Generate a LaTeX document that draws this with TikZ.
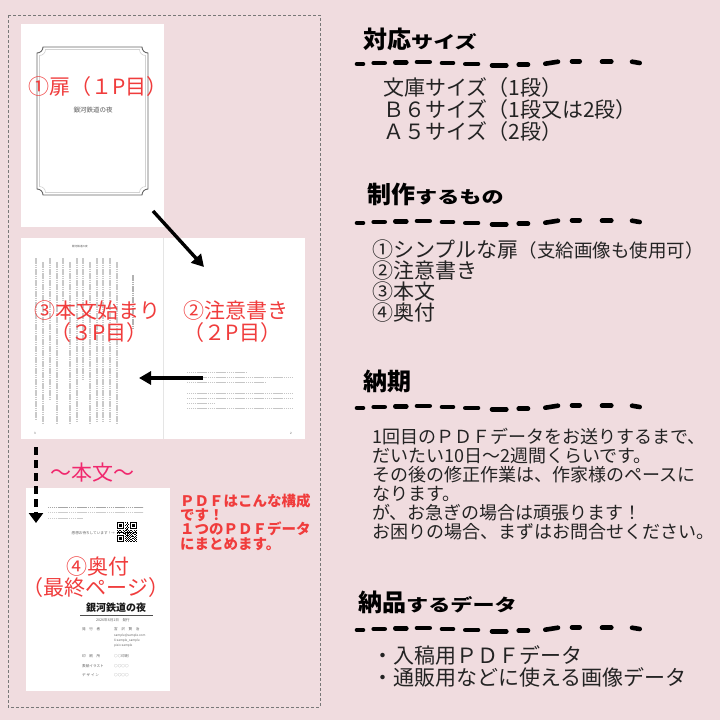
\documentclass[tikz,border=0pt]{standalone}
\usepackage{fontspec}
\usetikzlibrary{arrows.meta}
\newfontfamily\jp{Noto Sans CJK JP}
\definecolor{bgpink}{RGB}{240,220,223}
\definecolor{lblred}{RGB}{240,60,60}
\definecolor{lblpink}{RGB}{240,40,110}
\definecolor{ink}{RGB}{35,35,35}
\definecolor{framegray}{RGB}{120,120,120}
\newcommand\hk[1]{{\fontsize{17}{18}\selectfont\scalebox{1.3}[1]{#1}}}
\newcommand\myhanddash[1]{%
  \foreach \xa/\ya/\xb/\yb in {357/1/363/1, 373.7/0/384.7/0, 395.3/-0.7/406.3/-0.7, 417/-1/429.7/-1, 442/0/453/0, 465.3/1/478/1, 492/2.3/506.3/2.3, 518.7/1.7/528/1.7, 545.3/0.7/558/-1.3, 572/-1.7/579.7/-1.7, 602/-1.3/611.3/-1.3, 632/-1.3/639.7/0}
    {\draw[handdash] (\xa,{#1+\ya}) -- (\xb,{#1+\yb});}}
\newcommand\notchrect[5]{%
  \draw[#5] ({#1+6},#2) -- ({#3-6},#2) .. controls ({#3-6},{#2+3.3}) and ({#3-3.3},{#2+6}) .. (#3,{#2+6})
  -- (#3,{#4-6}) .. controls ({#3-3.3},{#4-6}) and ({#3-6},{#4-3.3}) .. ({#3-6},#4)
  -- ({#1+6},#4) .. controls ({#1+6},{#4-3.3}) and ({#1+3.3},{#4-6}) .. (#1,{#4-6})
  -- (#1,{#2+6}) .. controls ({#1+3.3},{#2+6}) and ({#1+6},{#2+3.3}) .. ({#1+6},#2) -- cycle;}
\tikzset{
  pagebox/.style={fill=white, draw=none, inner sep=0pt, outer sep=0pt},
  frame/.style={draw=framegray, line width=0.9pt, dash pattern=on 3pt off 2pt},
  arrowsolid/.style={draw=black, line width=3.4pt, -{Triangle[length=12pt,width=13pt]}},
  arrowdashed/.style={draw=black, line width=3.6pt, dash pattern=on 8pt off 5pt, -{Triangle[length=10pt,width=14pt]}},
  lbl/.style={font=\jp\fontsize{21}{24}\selectfont, text=lblred, inner sep=0pt},
  note/.style={font=\jp\bfseries\fontsize{14.5}{16}\selectfont, text=lblred, inner sep=0pt, anchor=base west},
  head/.style={font=\jp\bfseries\fontsize{24}{26}\selectfont, text=black, inner sep=0pt, anchor=base west},
  bodyA/.style={font=\jp\fontsize{21}{24}\selectfont, text=ink, inner sep=0pt, anchor=base west},
  bodyB/.style={font=\jp\fontsize{18}{20}\selectfont, text=ink, inner sep=0pt, anchor=base west},
  tiny/.style={font=\jp\fontsize{3.6}{4}\selectfont, text=gray!75!black, inner sep=0pt},
  handdash/.style={line width=4.6pt, line cap=round, draw=black},
  txtcol/.style={line width=1.1pt, draw=gray!42, dash pattern=on 1.5pt off 0.7pt},
  txtrow/.style={line width=0.9pt, draw=gray!45, dash pattern=on 1.4pt off 0.5pt},
}
\begin{document}
\begin{tikzpicture}[x=1pt,y=-1pt]
\useasboundingbox (0,0) rectangle (720,720);
\fill[bgpink] (0,0) rectangle (720,720);
% outer dashed frame
\draw[frame] (8,15) rectangle (320,707);

% ---------- page 1 ----------
\node[pagebox, minimum width=143pt, minimum height=203pt] (p1) at (92.5,125.5) {};
\notchrect{37}{47}{148}{195}{draw=gray!80!black, line width=0.9pt}
\notchrect{39.5}{49.5}{145.5}{192.5}{draw=gray!35, line width=0.6pt}
\node[font=\jp\fontsize{6.5}{7}\selectfont, text=gray!70!black, inner sep=0pt] (t1) at (93,110) {銀河鉄道の夜};
\node[lbl, anchor=base west] (l1) at (28,94) {①扉（１P目）};

% ---------- spread (pages 3 and 2) ----------
\node[pagebox, minimum width=284pt, minimum height=201pt] (spread) at (163,338.5) {};
\draw[gray!20, line width=0.8pt] (spread.north) -- (spread.south);
\node[font=\jp\fontsize{2.6}{3}\selectfont, text=gray!70!black, inner sep=0pt] (hdr) at (80,247) {銀河鉄道の夜};
\foreach \cx/\ya/\yb in {36/258/420, 43/262/423, 50/258/400, 57/262/423, 63/258/300, 70/262/423, 77/258/423, 83/258/380, 90/262/423, 97/258/423, 103/258/423, 110/258/423, 117/262/423}
  {\draw[txtcol] (\cx,\ya) -- (\cx,\yb);}
\draw[txtcol, draw=gray!60] (133,275) -- (133,330);
\foreach \ry/\xa/\xb in {372.5/187/247, 377/187/292, 382/187/265, 393/187/292, 398/187/292, 403/187/215, 408/187/292}
  {\draw[txtrow] (\xa,\ry) -- (\xb,\ry);}
\node[font=\jp\fontsize{3}{3}\selectfont, text=gray!70!black, inner sep=0pt] (pn3) at (35,433) {3};
\node[font=\jp\fontsize{3}{3}\selectfont, text=gray!70!black, inner sep=0pt] (pn2) at (291,433) {2};
\node[lbl, anchor=base west] (l3) at (34,318) {③本文始まり};
\node[lbl, anchor=base] (l3b) at (99,340) {（３P目）};
\node[lbl, anchor=base west] (l2) at (183,318) {②注意書き};
\node[lbl, anchor=base] (l2b) at (232.5,340) {（２P目）};

% ---------- page 4 ----------
\node[pagebox, minimum width=144pt, minimum height=203pt] (p4) at (98,589.5) {};
\draw[line width=1pt, draw=gray!70, dash pattern=on 1.4pt off 0.5pt] (48,507) -- (143,507);
\draw[line width=1pt, draw=gray!40, dash pattern=on 1.4pt off 0.5pt] (48,512.5) -- (143,512.5);
\draw[line width=1pt, draw=gray!40, dash pattern=on 1.4pt off 0.5pt] (48,518) -- (83,518);
\node[tiny, anchor=east] (thx) at (115,533) {感想お待ちしています！→};
% QR code
\fill[black] (117,522) rectangle (123.65,528.65);
\fill[white] (117.95,522.95) rectangle (122.7,527.7);
\fill[black] (118.9,523.9) rectangle (121.75,526.75);
\fill[black] (130.3,522) rectangle (136.95,528.65);
\fill[white] (131.25,522.95) rectangle (136,527.7);
\fill[black] (132.2,523.9) rectangle (135.05,526.75);
\fill[black] (117,535.3) rectangle (123.65,541.95);
\fill[white] (117.95,536.25) rectangle (122.7,541);
\fill[black] (118.9,537.2) rectangle (121.75,540.05);
\foreach \i/\j in {8/0,10/0,11/1,9/2,12/2,8/3,10/3,11/4,9/5,12/5,8/6,10/6,9/7,11/7,
  0/8,2/8,3/8,6/8,8/8,9/8,12/8,14/8,15/8,18/8,20/8,1/9,4/9,7/9,10/9,11/9,13/9,16/9,19/9,
  0/10,2/10,5/10,6/10,8/10,12/10,14/10,17/10,18/10,20/10,1/11,3/11,4/11,9/11,10/11,13/11,15/11,19/11,
  0/12,2/12,6/12,7/12,8/12,11/12,12/12,14/12,16/12,17/12,20/12,
  8/13,10/13,13/13,15/13,18/13,19/13,9/14,11/14,12/14,14/14,16/14,20/14,
  8/15,10/15,13/15,15/15,16/15,17/15,19/15,9/16,12/16,14/16,18/16,20/16,
  8/17,10/17,11/17,13/17,16/17,17/17,19/17,9/18,12/18,14/18,15/18,18/18,20/18,
  8/19,10/19,11/19,13/19,16/19,19/19,9/20,12/20,14/20,15/20,17/20,18/20,20/20}
  {\fill[black] ({117+\i*0.95},{522+\j*0.95}) rectangle ++(0.95,0.95);}
\node[lbl, anchor=base] (l4) at (97.5,574) {④奥付};
\node[lbl, anchor=base] (l4b) at (96,595) {（最終ページ）};
% colophon
\node[font=\jp\bfseries\fontsize{10}{11}\selectfont, text=gray!20!black, inner sep=0pt] (ct) at (116,607.5) {銀河鉄道の夜};
\draw[gray!60!black, line width=0.7pt] (80,615.5) -- (153,615.5);
\node[tiny] (cdate) at (113,620.5) {2026年6月1日　発行};
\node[tiny, anchor=west] (c1) at (82,629) {発　行　者};
\node[tiny, anchor=west] (c1v) at (114,629) {宮　沢　賢　治};
\node[tiny, anchor=west, font=\jp\fontsize{3.1}{3.5}\selectfont] (c1a) at (114,636) {sample@sample.com};
\node[tiny, anchor=west, font=\jp\fontsize{3.1}{3.5}\selectfont] (c1b) at (114,641) {X:sample\_sample};
\node[tiny, anchor=west, font=\jp\fontsize{3.1}{3.5}\selectfont] (c1c) at (114,646) {pixiv:sample};
\node[tiny, anchor=west] (c2) at (82,656) {印　刷　所};
\node[tiny, anchor=west] (c2v) at (114,656) {○○印刷};
\node[tiny, anchor=west] (c3) at (82,666) {表紙イラスト};
\node[tiny, anchor=west] (c3v) at (114,666) {○○○○};
\node[tiny, anchor=west] (c4) at (82,675) {デ ザ イ ン};
\node[tiny, anchor=west] (c4v) at (114,675) {○○○○};

% arrows (drawn over the pages)
\coordinate (a1s) at (153,211);
\coordinate (a1e) at (204,267);
\draw[arrowsolid] (a1s) -- (a1e);
\coordinate (a2s) at (203,378);
\coordinate (a2e) at (139,378);
\draw[arrowsolid] (a2s) -- (a2e);
\coordinate (a3s) at (36,447);
\coordinate (a3e) at (36,523);
\draw[arrowdashed] (a3s) -- (a3e);
\node[lbl, text=lblpink, anchor=base] (lh) at (92.5,480) {～本文～};

% red note
\node[note] (n1) at (180,506.5) {ＰＤＦはこんな構成};
\node[note] (n2) at (180,520.5) {です！};
\node[note] (n3) at (180,534.8) {１つのＰＤＦデータ};
\node[note] (n4) at (180,549.5) {にまとめます。};

% ---------- right column ----------
\node[head] (h1) at (363,48) {対応\hk{サイズ}};
\myhanddash{63}
\node[bodyA] (s1a) at (383,95) {文庫サイズ（1段）};
\node[bodyA] (s1b) at (383,117) {Ｂ６サイズ（1段又は2段）};
\node[bodyA] (s1c) at (383,139) {Ａ５サイズ（2段）};

\node[head] (h2) at (367,203) {制作\hk{するもの}};
\myhanddash{222}
\node[bodyA] (s2a) at (372,257) {①シンプルな扉{\fontsize{18.5}{20}\selectfont（支給画像も使用可）}};
\node[bodyA] (s2b) at (372,278) {②注意書き};
\node[bodyA] (s2c) at (372,299) {③本文};
\node[bodyA] (s2d) at (372,320) {④奥付};

\node[head] (h3) at (363,390) {納期};
\myhanddash{407}
\node[bodyB] (s3a) at (372,443.5) {1回目のＰＤＦデータをお送りするまで、};
\node[bodyB] (s3b) at (372,462.5) {だいたい10日～2週間くらいです。};
\node[bodyB] (s3c) at (372,481.5) {その後の修正作業は、作家様のペースに};
\node[bodyB] (s3d) at (372,500.5) {なります。};
\node[bodyB] (s3e) at (372,519.5) {が、お急ぎの場合は頑張ります！};
\node[bodyB] (s3f) at (372,538.5) {お困りの場合、まずはお問合せください。};

\node[head] (h4) at (358,611.5) {納品\hk{するデータ}};
\myhanddash{629}
\node[bodyA] (s4a) at (372,663) {・入稿用ＰＤＦデータ};
\node[bodyA] (s4b) at (372,685) {・通販用などに使える画像データ};
\end{tikzpicture}
\end{document}
